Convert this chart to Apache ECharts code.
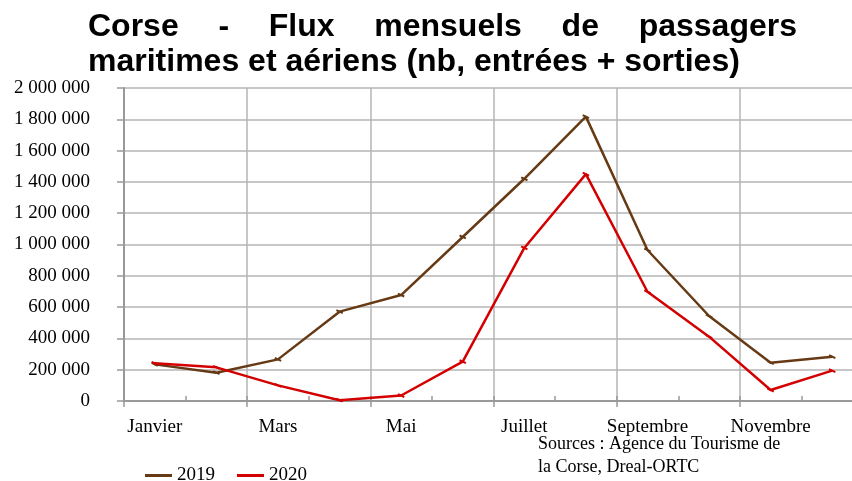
<!DOCTYPE html>
<html>
<head>
<meta charset="utf-8">
<script src="https://cdn.jsdelivr.net/npm/echarts@6/dist/echarts.min.js"></script>
<style>
  html, body { margin: 0; padding: 0; background: #fff; }
  #chart { width: 852px; height: 481px; }
</style>
</head>
<body>
<div id="chart"></div>
<script>
// données
var months = ['Janvier', 'Février', 'Mars', 'Avril', 'Mai', 'Juin',
  'Juillet', 'Août', 'Septembre', 'Octobre', 'Novembre', 'Décembre']
var pax2019 = [234000, 181000, 266000, 571000, 677000, 1048000,
  1420000, 1817000, 965000, 543000, 245000, 283000]
var pax2020 = [241000, 215000, 100000, 5000, 35000, 251000,
  978000, 1450000, 698000, 411000, 70000, 194000]
var titleLine1 = ['Corse', '-', 'Flux', 'mensuels', 'de', 'passagers']
var titleLine2 = 'maritimes et aériens (nb, entrées + sorties)'
var sourceText = 'Sources : Agence du Tourisme de\nla Corse, Dreal-ORTC'

var serif = '"Liberation Serif", "Times New Roman", serif'
var sans = '"Liberation Sans", Arial, sans-serif'
var titleSize = 32

function fmt(v) {
  return String(v).replace(/\B(?=(\d{3})+(?!\d))/g, ' ')
}

// première ligne du titre justifiée entre 88 et 797
function justifiedWords(words, x0, x1, y) {
  var ctx = document.createElement('canvas').getContext('2d')
  ctx.font = 'bold ' + titleSize + 'px ' + sans
  var widths = words.map(function (w) { return ctx.measureText(w).width })
  var total = widths.reduce(function (a, b) { return a + b }, 0)
  var gap = (x1 - x0 - total) / (words.length - 1)
  var x = x0
  return words.map(function (w, i) {
    var el = {
      type: 'text', left: x, top: y,
      style: { text: w, font: 'bold ' + titleSize + 'px ' + sans, fill: '#000' }
    }
    x += widths[i] + gap
    return el
  })
}

var chart = echarts.init(document.getElementById('chart'))
var graphics = justifiedWords(titleLine1, 88, 797, 11)
graphics.push({
  type: 'text', left: 88, top: 46,
  style: { text: titleLine2, font: 'bold ' + titleSize + 'px ' + sans, fill: '#000' }
})
graphics.push({
  type: 'text', left: 538, top: 433,
  style: { text: sourceText, font: '18px ' + serif, lineHeight: 23, fill: '#000' }
})

var option = {
  animation: false,
  backgroundColor: '#fff',
  graphic: graphics,
  // la zone de tracé déborde à droite de l'image, comme sur l'original
  grid: { left: 124, top: 88, width: 739, height: 313, containLabel: false, outerBoundsMode: 'none' },
  legend: {
    left: 145, top: 466, padding: 0,
    itemWidth: 27, itemHeight: 3, itemGap: 22,
    icon: 'rect',
    textStyle: { fontFamily: serif, fontSize: 19, color: '#000' },
    data: ['2019', '2020']
  },
  xAxis: [{
    type: 'category',
    data: months,
    boundaryGap: true,
    axisLine: { lineStyle: { color: '#999', width: 2 } },
    axisTick: { show: true, inside: true, length: 5, interval: 0, lineStyle: { color: '#999', width: 1.5 } },
    axisLabel: { interval: 1, margin: 17, fontFamily: serif, fontSize: 19, color: '#000' },
    splitLine: { show: true, interval: 1, lineStyle: { color: '#b4b4b4', width: 1.5 } }
  }, {
    type: 'category',
    data: months,
    position: 'bottom',
    boundaryGap: true,
    axisLine: { show: false },
    axisTick: { show: true, length: 6, interval: 1, lineStyle: { color: '#999', width: 1.5 } },
    axisLabel: { show: false },
    splitLine: { show: false }
  }],
  yAxis: {
    type: 'value',
    min: 0, max: 2000000, interval: 200000,
    axisLine: { show: true, lineStyle: { color: '#999', width: 2 } },
    axisTick: { show: true, length: 7, lineStyle: { color: '#999', width: 1.5 } },
    axisLabel: { margin: 34, fontFamily: serif, fontSize: 19, color: '#000', formatter: fmt },
    splitLine: { show: true, lineStyle: { color: '#b4b4b4', width: 1.5 } }
  },
  series: [{
    name: '2019',
    type: 'line',
    data: pax2019,
    color: '#663a14',
    lineStyle: { width: 2.5 },
    symbol: 'rect', symbolSize: [7, 2], symbolRotate: -25,
    itemStyle: { color: '#663a14' }
  }, {
    name: '2020',
    type: 'line',
    data: pax2020,
    color: '#d40000',
    lineStyle: { width: 2.5 },
    symbol: 'rect', symbolSize: [7, 2], symbolRotate: -25,
    itemStyle: { color: '#d40000' }
  }]
}
chart.setOption(option)
</script>
</body>
</html>
